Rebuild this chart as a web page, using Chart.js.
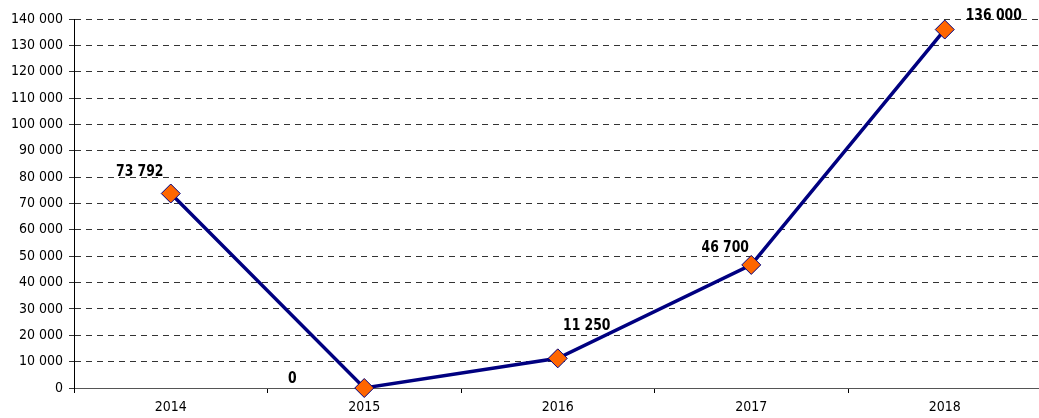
<!DOCTYPE html>
<html>
<head>
<meta charset="utf-8">
<script src="https://cdn.jsdelivr.net/npm/chart.js@4/dist/chart.umd.min.js"></script>
<style>
html,body{margin:0;padding:0;background:#fff;overflow:hidden;}
#wrap{width:1052px;height:418px;}
</style>
</head>
<body>
<div id="wrap"><canvas id="c" width="1052" height="418"></canvas></div>
<script>
const categories = ['2014', '2015', '2016', '2017', '2018'];
const values = [73792, 0, 11250, 46700, 136000];
const yTicks = [0, 10000, 20000, 30000, 40000, 50000, 60000, 70000, 80000, 90000, 100000, 110000, 120000, 130000, 140000];

function fmt(v){
  return String(v).replace(/\B(?=(\d{3})+(?!\d))/g, ' ');
}

const labelOffsets = [[-31,-21],[-72,-9],[29,-32],[-26,-17],[49,-13]];

const dataLabels = {
  id: 'dataLabels',
  afterDatasetsDraw(chart){
    const ctx = chart.ctx;
    const meta = chart.getDatasetMeta(0);
    meta.data.forEach((pt, i) => {
      const o = labelOffsets[i];
      const cx = pt.x + o[0], cy = pt.y + o[1];
      ctx.save();
      ctx.translate(cx, cy);
      ctx.scale(0.92, 1);
      ctx.font = 'bold 15px "DejaVu Sans Condensed", "DejaVu Sans"';
      ctx.fillStyle = '#000';
      ctx.textAlign = 'center';
      ctx.textBaseline = 'middle';
      ctx.fillText(fmt(values[i]), 0, 0);
      ctx.restore();
    });
  }
};

const tickFont = { family: '"DejaVu Sans Condensed", "DejaVu Sans"', size: 14 };

new Chart(document.getElementById('c'), {
  type: 'line',
  data: {
    labels: categories,
    datasets: [{
      data: values,
      borderColor: '#000080',
      borderWidth: 3.5,
      pointStyle: 'rectRot',
      pointRadius: 9.5,
      pointBackgroundColor: '#FF6600',
      pointBorderColor: '#000080',
      pointBorderWidth: 1,
      tension: 0,
      clip: false
    }]
  },
  options: {
    responsive: false,
    animation: false,
    layout: { padding: { top: 19, right: 3, left: 0, bottom: 0 } },
    plugins: { legend: { display: false }, tooltip: { enabled: false } },
    scales: {
      x: {
        offset: true,
        grid: { display: true, offset: true, drawOnChartArea: false, tickLength: 5, color: '#000' },
        border: { display: true, color: '#555', width: 1 },
        ticks: { font: tickFont, color: '#000', padding: 6, maxRotation: 0 },
        afterFit(scale){ scale.height = 30; }
      },
      y: {
        min: 0,
        max: 140000,
        afterBuildTicks(scale){ scale.ticks = yTicks.map(v => ({ value: v })); },
        grid: { color: '#333', tickLength: 5, lineWidth: 1 },
        border: { display: true, color: '#000', width: 1, dash: [6, 5] },
        ticks: {
          font: tickFont,
          color: '#000',
          padding: 6,
          callback: v => fmt(v)
        },
        afterFit(scale){ scale.width = 74; }
      }
    }
  },
  plugins: [dataLabels]
});
</script>
</body>
</html>
